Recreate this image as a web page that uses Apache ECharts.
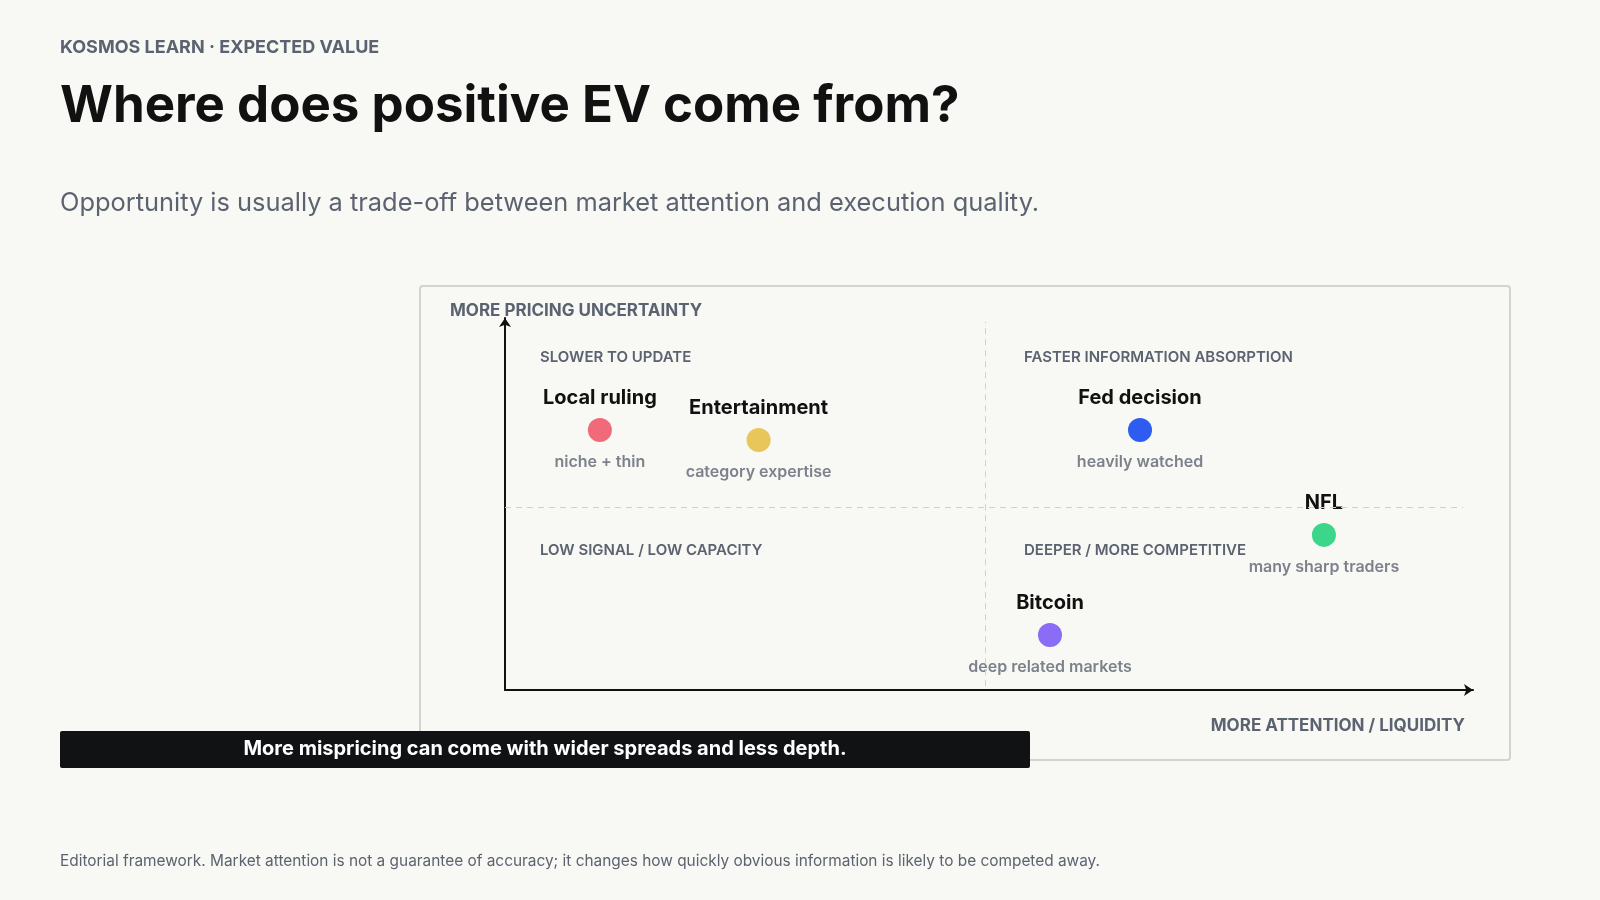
<!DOCTYPE html>
<html><head><meta charset="utf-8">
<script src="https://cdn.jsdelivr.net/npm/echarts@6/dist/echarts.min.js"></script>
<style>html,body{margin:0;background:#f8f8f4}#c{width:1600px;height:900px}</style>
</head><body><div id="c"></div>
<script>
const names = ['Local ruling','Entertainment','Fed decision','NFL','Bitcoin'];
const subs = ['niche + thin','category expertise','heavily watched','many sharp traders','deep related markets'];
const attention = [9.8, 26.2, 65.6, 84.6, 56.3];
const uncertainty = [69.9, 67.2, 69.9, 41.7, 14.8];
const colors = ['#f06a7a','#e8c65a','#2f5cf0','#3bd68a','#8b6cf6'];
const quadrants = [['SLOWER TO UPDATE',540,357],['FASTER INFORMATION ABSORPTION',1024,357],['LOW SIGNAL / LOW CAPACITY',540,550],['DEEPER / MORE COMPETITIVE',1024,550]];
const F = 'Inter, "Noto Sans", sans-serif';
const pts = names.map((n,i)=>({value:[attention[i],uncertainty[i]],name:n,sub:subs[i],itemStyle:{color:colors[i]}}));
const subPts = names.map((n,i)=>({value:[attention[i],uncertainty[i]],name:n,sub:subs[i]}));
const chart = echarts.init(document.getElementById('c'));
const txt = (x,y,t,size,weight,color,align,extra)=>Object.assign({type:'text',x:x,y:y,style:{text:t,font:weight+' '+size+'px '+F,fill:color,textAlign:align||'left',textVerticalAlign:'middle'}},extra||{});
chart.setOption({
  backgroundColor:'#f8f8f4',
  grid:{left:505,right:127,top:318,bottom:210},
  xAxis:{type:'value',min:0,max:100,axisLine:{show:true,lineStyle:{color:'#111',width:2},symbol:['none','arrow'],symbolSize:[9,9]},axisTick:{show:false},axisLabel:{show:false},splitLine:{show:false}},
  yAxis:{type:'value',min:0,max:100,axisLine:{show:true,lineStyle:{color:'#111',width:2},symbol:['none','arrow'],symbolSize:[9,9]},axisTick:{show:false},axisLabel:{show:false},splitLine:{show:false}},
  series:[
    {type:'scatter',symbolSize:24,data:pts,z:3,itemStyle:{opacity:1},
     label:{show:true,position:'top',distance:10,formatter:p=>p.name,color:'#111',fontFamily:F,fontSize:20,fontWeight:700},
     markLine:{silent:true,symbol:'none',label:{show:false},lineStyle:{color:'#d0d0cc',type:[6,5],width:1},
       data:[[{coord:[49.6,1]},{coord:[49.6,99]}],[{coord:[0,49.2]},{coord:[99,49.2]}]]}},
    {type:'scatter',symbolSize:24,data:subPts,silent:true,itemStyle:{color:'rgba(0,0,0,0)'},z:2,
     label:{show:true,position:'bottom',distance:12,formatter:p=>p.data.sub,color:'#5c6370',fontFamily:F,fontSize:16,fontWeight:600}}
  ],
  graphic:[
    {type:'rect',shape:{x:420,y:286,width:1090,height:474,r:3},style:{fill:'none',stroke:'#d4d4cc',lineWidth:2},z:-1},
    txt(60,48,'KOSMOS LEARN · EXPECTED VALUE',18,700,'#5c6370'),
    txt(60,107,'Where does positive EV come from?',51,700,'#111'),
    txt(60,203,'Opportunity is usually a trade-off between market attention and execution quality.',25.4,400,'#5c6370'),
    txt(450,311,'MORE PRICING UNCERTAINTY',17,700,'#5c6370'),
    txt(1465,726,'MORE ATTENTION / LIQUIDITY',17,700,'#5c6370','right'),
    ...quadrants.map(q=>txt(q[1],q[2],q[0],15,600,'#5c6370')),
    {type:'rect',shape:{x:60,y:731,width:970,height:37,r:2},style:{fill:'#101214'},z:10},
    txt(545,749,'More mispricing can come with wider spreads and less depth.',20,700,'#fff','center',{z:11}),
    txt(60,861,'Editorial framework. Market attention is not a guarantee of accuracy; it changes how quickly obvious information is likely to be competed away.',15.4,400,'#5c6370')
  ]
});
</script></body></html>
